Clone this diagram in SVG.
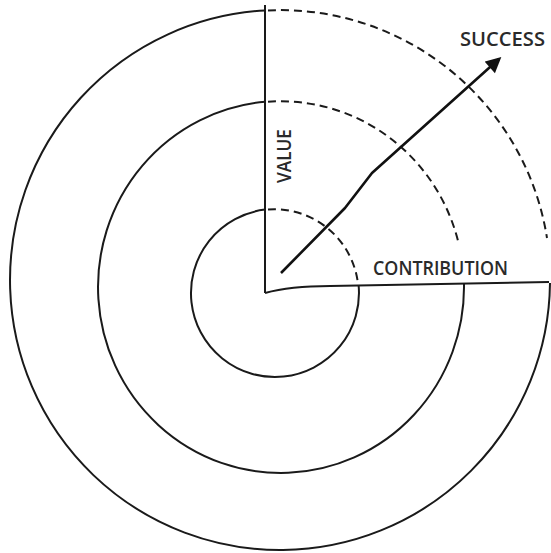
<svg xmlns="http://www.w3.org/2000/svg" width="551" height="553" viewBox="0 0 551 553">
<style>
.s{fill:none;stroke:#1a1a1a;stroke-width:2}
.d{fill:none;stroke:#1a1a1a;stroke-width:2;stroke-dasharray:8 5}
.t{font-family:"Open Sans","Liberation Sans",sans-serif;font-size:19px;font-weight:600;fill:#2a2a2a;}
</style>
<defs>
<marker id="ah" viewBox="0 0 10 10" refX="8" refY="5" markerWidth="6.5" markerHeight="6" orient="auto" markerUnits="strokeWidth">
<path d="M0,0 L10,5 L0,10 Z" fill="#111"/>
</marker>
</defs>
<rect width="551" height="553" fill="#fff"/>
<g id="outer-ring">
<path class="s" d="M265,10.4 A270,270 0 1 0 550,283"/>
<path class="d" d="M268,10.4 A270,270 0 0 1 547,238"/>
</g>
<g id="middle-ring">
<path class="s" d="M265,101.7 A183,186 0 1 0 464,284"/>
<path class="d" d="M268,101.7 A183,186 0 0 1 459,245"/>
</g>
<g id="inner-ring">
<path class="s" d="M265,209.6 A84,84 0 1 0 358.6,285"/>
<path class="d" d="M268,209.6 A84,84 0 0 1 358,284"/>
</g>
<g id="connectors">
<path class="s" d="M265,5 L265,293"/>
<path class="s" d="M265,293 Q290,286 330,286 L549,282"/>
<path fill="none" stroke="#111" stroke-width="2.6" stroke-linejoin="round" d="M281,273 L345,208 L372,173 L499,59" marker-end="url(#ah)"/>
</g>
<g id="labels">
<text class="t" transform="translate(291,156) rotate(-90)" text-anchor="middle" textLength="54" lengthAdjust="spacingAndGlyphs">VALUE</text>
<text class="t" x="373" y="275" textLength="135" lengthAdjust="spacingAndGlyphs">CONTRIBUTION</text>
<text class="t" x="460" y="46" textLength="85" lengthAdjust="spacingAndGlyphs">SUCCESS</text>
</g>
</svg>
